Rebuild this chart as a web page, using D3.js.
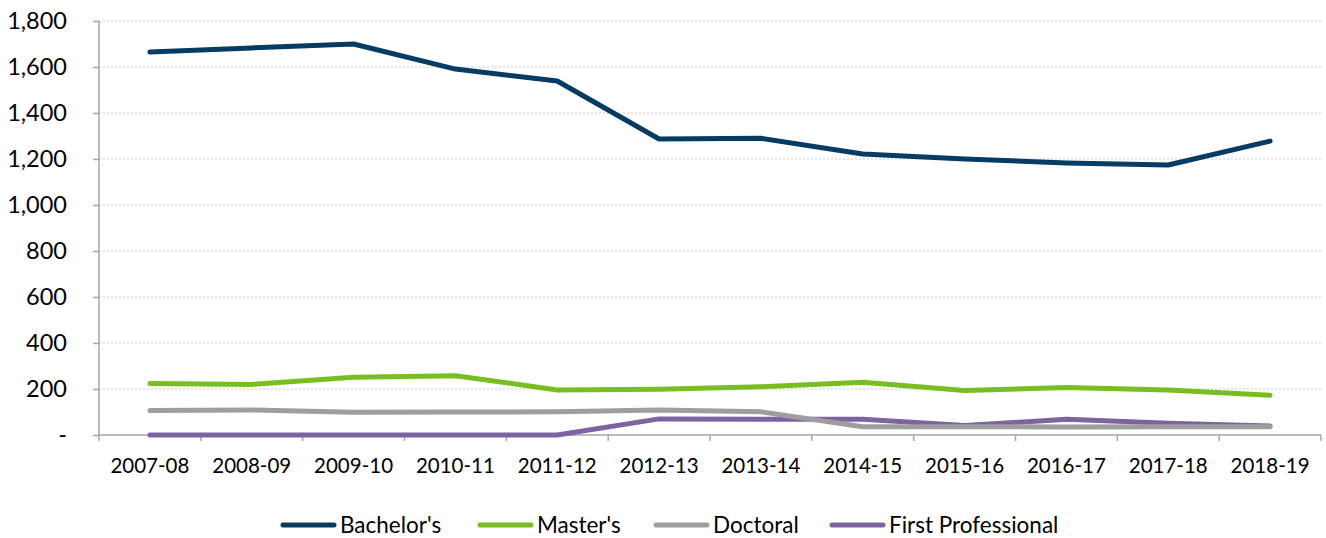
<!DOCTYPE html>
<html>
<head>
<meta charset="utf-8">
<script src="https://cdn.jsdelivr.net/npm/d3@7"></script>
<style>
  body { margin: 0; background: #fff; }
  svg { display: block; font-family: Lato, "Open Sans", sans-serif; }
</style>
</head>
<body>
<svg id="chart" width="1326" height="538"></svg>
<script>
const years = ["2007-08", "2008-09", "2009-10", "2010-11", "2011-12", "2012-13",
    "2013-14", "2014-15", "2015-16", "2016-17", "2017-18", "2018-19"]
const seriesNames = ["Bachelor's", "Master's", "Doctoral", "First Professional"]
const seriesColors = ["#063b64", "#78be21", "#9e9e9e", "#7e62a1"]
const bachelors = [1665, 1683, 1700, 1591, 1539, 1287, 1290, 1222, 1200, 1183, 1174, 1278]
const masters = [224, 220, 251, 258, 196, 199, 210, 229, 193, 206, 196, 173]
const doctoral = [106, 109, 99, 100, 101, 109, 101, 36, 36, 35, 36, 36]
const firstProfessional = [0, 0, 0, 0, 0, 70, 68, 68, 41, 68, 51, 39]
const yTicks = [0, 200, 400, 600, 800, 1000, 1200, 1400, 1600, 1800]

const allSeries = [bachelors, masters, doctoral, firstProfessional]

const margins = { top: 21, bottom: 103, left: 99, right: 5 }
const svg = d3.select("#chart")
const width = 1326 - margins.left - margins.right
const height = 538 - margins.top - margins.bottom

const g = svg.append("g").attr("transform", "translate(" + margins.left + "," + margins.top + ")")

const x = d3.scaleBand().domain(years).range([0, width])
const y = d3.scaleLinear().domain([0, 1800]).range([height, 0])

// dotted gridlines
g.selectAll(".grid").data(yTicks.slice(1)).enter().append("line")
    .attr("x1", 0).attr("x2", width)
    .attr("y1", d => y(d)).attr("y2", d => y(d))
    .attr("stroke", "#c8c8c8").attr("stroke-width", 1)
    .attr("stroke-dasharray", "2,2")

const yAxis = d3.axisLeft(y).tickValues(yTicks).tickSize(6).tickPadding(26)
    .tickFormat(d => d === 0 ? "-" : d3.format(",")(d))
const yG = g.append("g").call(yAxis)
yG.selectAll("text").attr("font-size", "23.5px").attr("fill", "#000")
    .attr("font-family", "Lato, sans-serif")
yG.selectAll("line, path").attr("stroke", "#a6a6a6").attr("stroke-width", 1.5)
yG.select(".domain").attr("d", "M0," + height + "V0")

// x axis with ticks at band edges
const xG = g.append("g").attr("transform", "translate(0," + height + ")")
xG.append("line").attr("x1", 0).attr("x2", width)
    .attr("stroke", "#a6a6a6").attr("stroke-width", 1.5)
const edges = years.map(d => x(d)).concat([width])
xG.selectAll(".tick").data(edges).enter().append("line")
    .attr("x1", d => d).attr("x2", d => d).attr("y1", 0).attr("y2", 6)
    .attr("stroke", "#a6a6a6").attr("stroke-width", 1.5)
xG.selectAll(".lbl").data(years).enter().append("text")
    .attr("x", d => x(d) + x.bandwidth() / 2)
    .attr("y", 38)
    .attr("text-anchor", "middle")
    .attr("font-size", "20.5px")
    .attr("fill", "#000")
    .text(d => d)

const line = d3.line()
    .x((d, i) => x(years[i]) + x.bandwidth() / 2)
    .y(d => y(d))

// draw from last to first so Bachelor's is on top
for (let s = allSeries.length - 1; s >= 0; s--) {
    g.append("path")
        .attr("d", line(allSeries[s]))
        .attr("fill", "none")
        .attr("stroke", seriesColors[s])
        .attr("stroke-width", 5)
        .attr("stroke-linejoin", "round")
        .attr("stroke-linecap", "round")
}

// legend
const legendX = [283, 480, 656, 832]
const legend = svg.append("g").attr("transform", "translate(0,525)")
seriesNames.forEach((name, i) => {
    legend.append("line")
        .attr("x1", legendX[i]).attr("x2", legendX[i] + 51)
        .attr("y1", 0).attr("y2", 0)
        .attr("stroke", seriesColors[i]).attr("stroke-width", 5)
        .attr("stroke-linecap", "round")
    legend.append("text")
        .attr("x", legendX[i] + 57).attr("y", 8)
        .attr("font-size", "22.5px").attr("fill", "#000")
        .text(name)
})
</script>
</body>
</html>
